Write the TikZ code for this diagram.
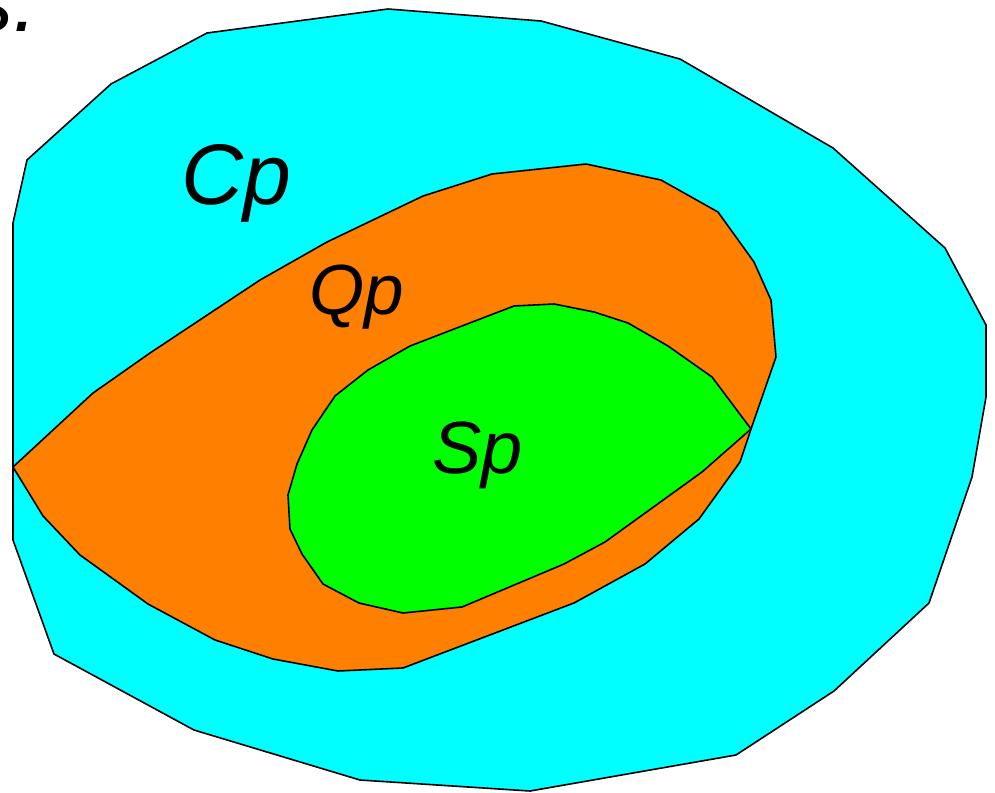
\documentclass[tikz,border=0pt]{standalone}
\usepackage{fontspec}
\setmainfont{Liberation Sans}
\definecolor{setcyan}{RGB}{0,255,255}
\definecolor{setorange}{RGB}{255,128,0}
\definecolor{setgreen}{RGB}{0,255,0}

\begin{document}
\begin{tikzpicture}[x=1pt,y=-1pt,
   region/.style={draw=black,line width=1.6pt,line join=miter},
   lbl/.style={inner sep=0pt,anchor=base west},
   big/.style={font=\fontsize{86}{96}\selectfont\itshape},
   mid/.style={font=\fontsize{71}{80}\selectfont\itshape}]
  \useasboundingbox (0,0) rectangle (995,792);
  \clip (0,0) rectangle (995,792);
  % outer set
  \filldraw[region,fill=setcyan] (388,9) -- (541,21) -- (680,59) -- (833,148)
    -- (945,248) -- (986,325) -- (986,397) -- (972,477) -- (929,603) -- (834,691)
    -- (736,755) -- (530,791) -- (360,780) -- (194,730) -- (54,654) -- (13,540)
    -- (13,223) -- (27,160) -- (111,84) -- (207,33) -- cycle;
  % middle set
  \filldraw[region,fill=setorange] (13,467) -- (93,393) -- (150,353) -- (260,280)
    -- (327,242) -- (423,196) -- (492,174) -- (586,164) -- (661,180) -- (718,212)
    -- (754,262) -- (771,300) -- (776,357) -- (751,429) -- (740,462) -- (699,519)
    -- (645,564) -- (574,603) -- (403,668) -- (338,671) -- (273,659) -- (215,640)
    -- (148,604) -- (80,555) -- (43,516) -- cycle;
  % inner set
  \filldraw[region,fill=setgreen] (751,429) -- (712,377) -- (668,346) -- (628,323)
    -- (594,312) -- (554,304) -- (514,306) -- (410,346) -- (368,370) -- (335,396)
    -- (312,430) -- (297,464) -- (288,495) -- (290,529) -- (302,554) -- (323,584)
    -- (359,603) -- (403,613) -- (462,607) -- (564,564) -- (605,542) -- (702,472)
    -- cycle;
  \node[lbl,big,anchor=base east] (cut) at (38,32) {s.};
  \node[lbl,big] (cp) at (181,204) {Cp};
  \node[lbl,mid] (qp) at (309,314) {Qp};
  \node[lbl,mid,font=\fontsize{74}{84}\selectfont\itshape] (sp) at (432,473) {Sp};
\end{tikzpicture}
\end{document}
